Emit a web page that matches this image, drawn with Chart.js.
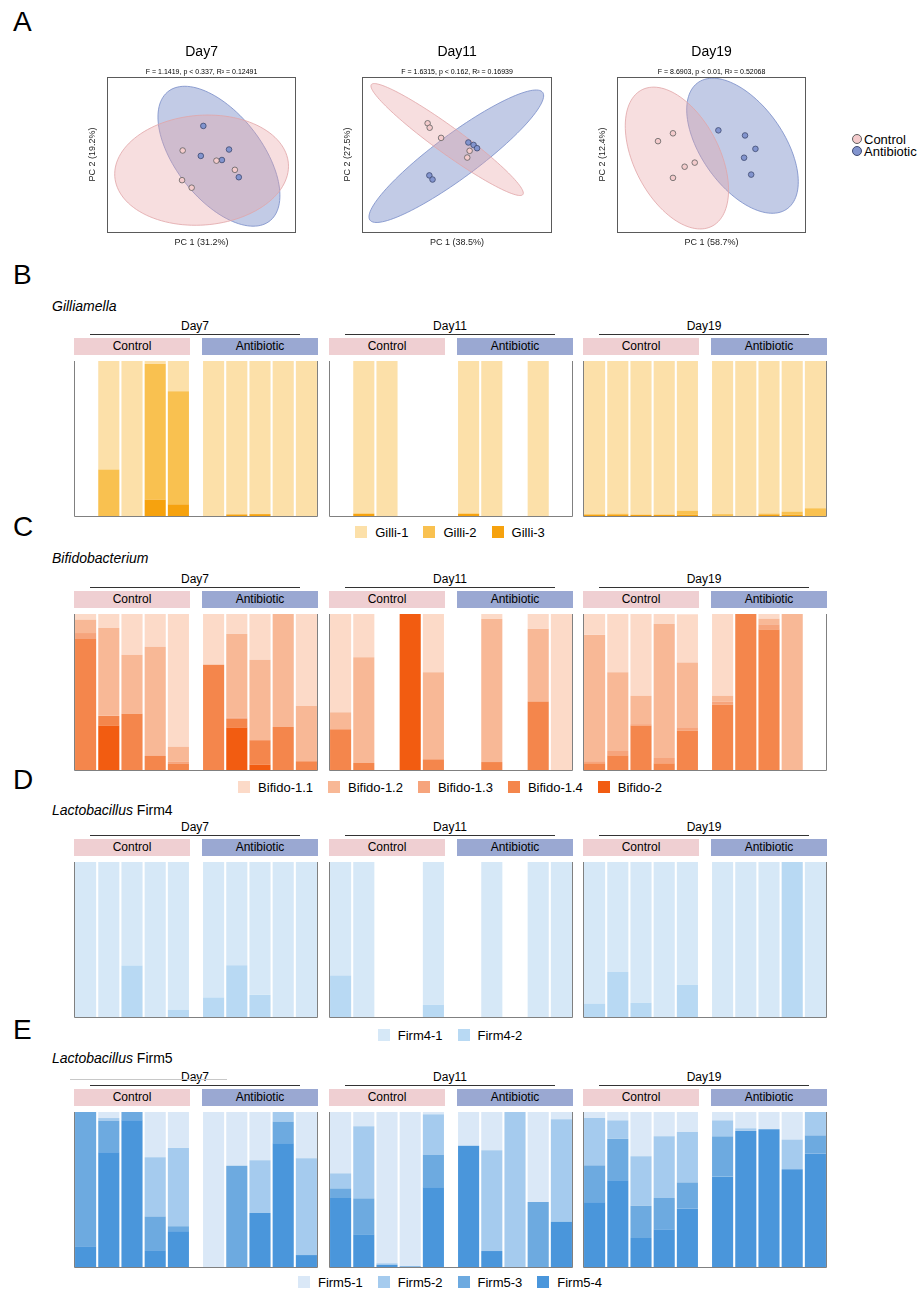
<!DOCTYPE html>
<html>
<head>
<meta charset="utf-8">
<title>Microbiome figure</title>
<script src="https://cdn.jsdelivr.net/npm/chart.js@4.4.1/dist/chart.umd.min.js"></script>
<style>
  body { margin: 0; background: #fff; }
  #fig { position: relative; width: 919px; height: 1290px; overflow: hidden; font-family: 'Liberation Sans', Arial, sans-serif; color: #000; }
  #fig div, #fig canvas { position: absolute; }
  .t { line-height: 1; white-space: nowrap; transform: translateY(-50%); }
  .c { transform: translate(-50%, -50%); }
  .strip { height: 17px; line-height: 17px; font-size: 12px; text-align: center; }
  .leg { display: flex; align-items: center; font-size: 13px; line-height: 1; white-space: nowrap; }
  #fig .leg span.sw { position: static; display: inline-block; width: 12px; height: 12px; margin-right: 8px; }
  #fig .leg span.lb { position: static; display: inline-block; margin-right: 15px; }
</style>
</head>
<body>
<div id="fig"></div>
<script>
// ---------- panel A: PCA ----------
var pcaDays = ['Day7', 'Day11', 'Day19'];
var pcaStats = ['F = 1.1419, p < 0.337, R² = 0.12491', 'F = 1.6315, p < 0.162, R² = 0.16939', 'F = 8.6903, p < 0.01, R² = 0.52068'];
var pc1Titles = ['PC 1 (31.2%)', 'PC 1 (38.5%)', 'PC 1 (58.7%)'];
var pc2Titles = ['PC 2 (19.2%)', 'PC 2 (27.5%)', 'PC 2 (12.4%)'];
var controlPts = [
  [[-0.120, 0.025], [0.094, -0.037], [0.211, -0.093], [-0.124, -0.156], [-0.063, -0.202]],
  [[-0.186, 0.191], [-0.173, 0.164], [-0.101, 0.102], [0.079, 0.023], [0.064, -0.018]],
  [[-0.245, 0.130], [-0.340, 0.082], [-0.107, -0.049], [-0.171, -0.074], [-0.245, -0.142]]
];
var antibioticPts = [
  [[0.011, 0.175], [0.174, 0.031], [-0.005, -0.008], [0.129, -0.033], [0.236, -0.138]],
  [[0.071, 0.074], [0.104, 0.059], [0.126, 0.039], [-0.175, -0.127], [-0.155, -0.152]],
  [[0.043, 0.148], [0.212, 0.117], [0.278, 0.035], [0.206, -0.019], [0.251, -0.122]]
];
// centre x, centre y, semi-axis a, semi-axis b, angle (deg)
var controlEllipse = [[0.0, -0.095, 0.552, 0.335, 4], [-0.063, 0.092, 0.584, 0.082, -35], [-0.220, -0.021, 0.472, 0.268, -61]];
var antibioticEllipse = [[0.110, -0.010, 0.510, 0.268, -50], [-0.005, -0.010, 0.670, 0.135, 35.5], [0.196, 0.054, 0.478, 0.258, -53]];

// ---------- panels B-E: stacked bars (5 control + 5 antibiotic per day) ----------
var days = ['Day7', 'Day11', 'Day19'];
var groups = ['Control', 'Antibiotic'];

var gilliNames = ['Gilli-1', 'Gilli-2', 'Gilli-3'];
var gilli1 = [[0, 0.70, 1, 0.017, 0.195, 1, 0.99, 0.988, 1, 1],
              [0, 0.985, 1, 0, 0, 0.985, 1, 0, 1, 0],
              [0.988, 0.985, 0.992, 0.992, 0.967, 0.988, 1, 0.984, 0.972, 0.95]];
var gilli2 = [[0, 0.30, 0, 0.878, 0.73, 0, 0, 0, 0, 0],
              [0, 0, 0, 0, 0, 0, 0, 0, 0, 0],
              [0.004, 0.005, 0, 0, 0.025, 0.012, 0, 0.006, 0.02, 0.05]];
var gilli3 = [[0, 0, 0, 0.105, 0.075, 0, 0.01, 0.012, 0, 0],
              [0, 0.015, 0, 0, 0, 0.015, 0, 0, 0, 0],
              [0.008, 0.01, 0.008, 0.008, 0.008, 0, 0, 0.01, 0.008, 0]];

var bifidoNames = ['Bifido-1.1', 'Bifido-1.2', 'Bifido-1.3', 'Bifido-1.4', 'Bifido-2'];
var bifido11 = [[0.036, 0.09, 0.261, 0.21, 0.85, 0.325, 0.126, 0.293, 0, 0.589],
                [0.63, 0.278, 0, 0, 0.373, 0, 0.03, 0, 0.094, 1],
                [0.135, 0.373, 0.525, 0.062, 0.31, 0.525, 0, 0.03, 0, 0]];
var bifido12 = [[0.086, 0.563, 0.379, 0.70, 0.098, 0, 0.537, 0.516, 0.724, 0.355],
                [0.109, 0.677, 0, 0, 0.559, 0, 0.919, 0, 0.467, 0],
                [0.814, 0.505, 0.182, 0.861, 0.415, 0.039, 0, 0.036, 1, 0]];
var bifido13 = [[0.039, 0, 0, 0, 0.013, 0, 0.009, 0, 0, 0],
                [0, 0, 0, 0, 0, 0, 0, 0, 0, 0],
                [0.009, 0.028, 0.009, 0.034, 0.021, 0.017, 0, 0.034, 0, 0]];
var bifido14 = [[0.839, 0.062, 0.36, 0.09, 0.039, 0.675, 0.056, 0.156, 0.276, 0.056],
                [0.261, 0.045, 0, 0, 0.068, 0, 0.051, 0, 0.439, 0],
                [0.043, 0.094, 0.285, 0.043, 0.253, 0.42, 1, 0.90, 0, 0]];
var bifido2 = [[0, 0.285, 0, 0, 0, 0, 0.272, 0.035, 0, 0],
               [0, 0, 0, 1, 0, 0, 0, 0, 0, 0],
               [0, 0, 0, 0, 0, 0, 0, 0, 0, 0]];

var firm4Names = ['Firm4-1', 'Firm4-2'];
var firm41 = [[1, 1, 0.668, 1, 0.953, 0.874, 0.666, 0.857, 1, 1],
              [0.732, 1, 0, 0, 0.921, 0, 1, 0, 1, 1],
              [0.914, 0.709, 0.908, 1, 0.792, 1, 1, 1, 0, 1]];
var firm42 = [[0, 0, 0.332, 0, 0.047, 0.126, 0.334, 0.143, 0, 0],
              [0.268, 0, 0, 0, 0.079, 0, 0, 0, 0, 0],
              [0.086, 0.291, 0.092, 0, 0.208, 0, 0, 0, 1, 0]];

var firm5Names = ['Firm5-1', 'Firm5-2', 'Firm5-3', 'Firm5-4'];
var firm51 = [[0, 0.039, 0, 0.292, 0.232, 1, 0.346, 0.312, 0, 0.299],
              [0.396, 0.092, 0.976, 0.995, 0.015, 0.217, 0.247, 0, 0.581, 0.047],
              [0.039, 0.054, 0.286, 0.157, 0.129, 0.054, 0.105, 0.112, 0.178, 0]];
var firm52 = [[0, 0.017, 0, 0.383, 0.505, 0, 0, 0.34, 0.062, 0.624],
              [0.097, 0.465, 0.01, 0, 0.26, 0, 0.65, 1, 0, 0.661],
              [0.305, 0.118, 0.318, 0.398, 0.325, 0.103, 0.017, 0, 0.191, 0.151]];
var firm53 = [[0.867, 0.204, 0.054, 0.217, 0.032, 0, 0.654, 0, 0.14, 0],
              [0.062, 0.232, 0, 0.005, 0.211, 0, 0, 0, 0.419, 0],
              [0.239, 0.269, 0.209, 0.202, 0.168, 0.26, 0, 0, 0, 0.116]];
var firm54 = [[0.133, 0.74, 0.946, 0.108, 0.231, 0, 0, 0.348, 0.798, 0.077],
              [0.445, 0.211, 0.014, 0, 0.514, 0.783, 0.103, 0, 0, 0.292],
              [0.417, 0.559, 0.187, 0.243, 0.378, 0.583, 0.878, 0.888, 0.631, 0.733]];

// ---------- styles ----------
var gilliColors = ['#FCE0A9', '#F9C150', '#F6A20E'];
var bifidoColors = ['#FCDAC8', '#F8B896', '#F6A47C', '#F4864C', '#F25C11'];
var firm4Colors = ['#D6E8F7', '#B8D9F3'];
var firm5Colors = ['#DAE8F7', '#A5CBEE', '#6DAAE0', '#4A96DB'];
var groupColors = ['#EFCFD2', '#9AA8D2'];

Chart.defaults.font.family = "'Liberation Sans', Arial, sans-serif";
Chart.defaults.color = '#000';

var fig = document.getElementById('fig');

function addDiv(cls, x, y, html, css) {
  var el = document.createElement('div');
  el.className = cls;
  el.style.left = x + 'px';
  el.style.top = y + 'px';
  el.innerHTML = html;
  if (css) { for (var k in css) el.style[k] = css[k]; }
  fig.appendChild(el);
  return el;
}
function addCanvas(x, y, w, h) {
  var cv = document.createElement('canvas');
  cv.width = w; cv.height = h;
  cv.style.left = x + 'px';
  cv.style.top = y + 'px';
  fig.appendChild(cv);
  return cv;
}

var ellipsePlugin = {
  id: 'ellipses',
  beforeDatasetsDraw: function (chart, args, opts) {
    var xs = chart.scales.x, ys = chart.scales.y, ctx = chart.ctx, a = chart.chartArea;
    ctx.save();
    ctx.beginPath();
    ctx.rect(a.left, a.top, a.right - a.left, a.bottom - a.top);
    ctx.clip();
    opts.items.forEach(function (e) {
      var p = e.shape, th = p[4] * Math.PI / 180;
      ctx.beginPath();
      for (var k = 0; k <= 120; k++) {
        var t = k / 120 * 2 * Math.PI;
        var ex = p[2] * Math.cos(t), ey = p[3] * Math.sin(t);
        var x = p[0] + ex * Math.cos(th) - ey * Math.sin(th);
        var y = p[1] + ex * Math.sin(th) + ey * Math.cos(th);
        var px = xs.getPixelForValue(x), py = ys.getPixelForValue(y);
        if (k === 0) ctx.moveTo(px, py); else ctx.lineTo(px, py);
      }
      ctx.closePath();
      ctx.fillStyle = e.fill;
      ctx.fill();
      ctx.strokeStyle = e.stroke;
      ctx.lineWidth = 1;
      ctx.stroke();
    });
    ctx.restore();
  }
};

var boxPlugin = {
  id: 'box',
  afterDraw: function (chart) {
    var a = chart.chartArea, ctx = chart.ctx;
    ctx.save();
    ctx.strokeStyle = '#5a5a5a';
    ctx.lineWidth = 1;
    ctx.strokeRect(Math.round(a.left) + 0.5, Math.round(a.top) + 0.5, Math.round(a.right - a.left) - 1, Math.round(a.bottom - a.top) - 1);
    ctx.restore();
  }
};

var framePlugin = {
  id: 'frame',
  afterDatasetsDraw: function (chart) {
    var a = chart.chartArea, ctx = chart.ctx;
    ctx.save();
    ctx.strokeStyle = '#808080';
    ctx.lineWidth = 1;
    ctx.beginPath();
    ctx.moveTo(a.left + 0.5, a.top);
    ctx.lineTo(a.left + 0.5, a.bottom + 0.5);
    ctx.lineTo(a.right - 0.5, a.bottom + 0.5);
    ctx.lineTo(a.right - 0.5, a.top);
    ctx.stroke();
    ctx.restore();
  }
};

// ---------- panel A ----------
addDiv('t', 13, 22, 'A', { fontSize: '28px' });
var pcaLeft = [85, 340, 595];
var pcaWidth = [216, 217, 216];
pcaDays.forEach(function (day, d) {
  var cv = addCanvas(pcaLeft[d], 40, pcaWidth[d], 210);
  new Chart(cv, {
    type: 'scatter',
    data: {
      datasets: [
        { label: 'Control', data: controlPts[d].map(function (p) { return { x: p[0], y: p[1] }; }),
          backgroundColor: '#F4CBCC', borderColor: '#5f5f5f', borderWidth: 0.8, pointRadius: 2.8 },
        { label: 'Antibiotic', data: antibioticPts[d].map(function (p) { return { x: p[0], y: p[1] }; }),
          backgroundColor: '#8294CE', borderColor: '#3f4a70', borderWidth: 0.8, pointRadius: 2.8 }
      ]
    },
    options: {
      responsive: false, animation: false, events: [],
      layout: { padding: 0 },
      plugins: {
        legend: { display: false },
        tooltip: { enabled: false },
        title: { display: true, text: day, fullSize: false, font: { size: 14, weight: 'normal' }, color: '#000', padding: { top: 3.6, bottom: 7.8 } },
        subtitle: { display: true, text: pcaStats[d], fullSize: false, font: { size: 7 }, color: '#000', padding: { top: 0, bottom: 0 } },
        ellipses: { items: [
          { shape: antibioticEllipse[d], fill: 'rgba(120,140,200,0.45)', stroke: 'rgba(120,140,200,0.8)' },
          { shape: controlEllipse[d], fill: 'rgba(232,160,163,0.35)', stroke: 'rgba(225,165,168,0.8)' }
        ] }
      },
      scales: {
        x: { min: -0.6, max: 0.6, ticks: { display: false }, grid: { display: false, drawTicks: false, tickLength: 0 }, border: { display: false },
             title: { display: true, text: pc1Titles[d], font: { size: 9 }, color: '#222', padding: { top: 4.6, bottom: 2 } } },
        y: { min: -0.476, max: 0.476, ticks: { display: false }, grid: { display: false, drawTicks: false, tickLength: 0 }, border: { display: false },
             title: { display: true, text: pc2Titles[d], font: { size: 9 }, color: '#222', padding: { top: 2.6, bottom: 8.6 } } }
      }
    },
    plugins: [ellipsePlugin, boxPlugin]
  });
});

// legend for panel A
var legAColors = [['#F4CBCC', '#5f5f5f'], ['#8294CE', '#3f4a70']];
groups.forEach(function (g, i) {
  var y = 139 + i * 12;
  addDiv('', 852, y - 5, '', { width: '8px', height: '8px', borderRadius: '50%', background: legAColors[i][0], border: '1px solid ' + legAColors[i][1] });
  addDiv('t', 864, y, g, { fontSize: '13px' });
});

// ---------- panels B-E ----------
var GAP = 12 / 23.2;
function slotX(i) { return i + 0.5 + (i >= 5 ? GAP : 0); }

var dayLeft = [74, 329, 583];
var panels = [
  { letter: 'B', letterY: 275, genus: '<i>Gilliamella</i>', genusY: 306, top: 361, height: 155, legendY: 532,
    names: gilliNames, colors: gilliColors, series: [gilli1, gilli2, gilli3] },
  { letter: 'C', letterY: 527, genus: '<i>Bifidobacterium</i>', genusY: 558, top: 614, height: 156, legendY: 787,
    names: bifidoNames, colors: bifidoColors, series: [bifido11, bifido12, bifido13, bifido14, bifido2] },
  { letter: 'D', letterY: 780, genus: '<i>Lactobacillus</i> Firm4', genusY: 810, top: 862, height: 155, legendY: 1035,
    names: firm4Names, colors: firm4Colors, series: [firm41, firm42] },
  { letter: 'E', letterY: 1030, genus: '<i>Lactobacillus</i> Firm5', genusY: 1058, top: 1112, height: 155, legendY: 1282,
    names: firm5Names, colors: firm5Colors, series: [firm51, firm52, firm53, firm54] }
];

panels.forEach(function (pn, pi) {
  addDiv('t', 13, pn.letterY, pn.letter, { fontSize: '28px' });
  addDiv('t', 52, pn.genusY, pn.genus, { fontSize: '14px' });

  days.forEach(function (day, d) {
    var x0 = dayLeft[d];
    addDiv('t c', x0 + 121, pn.top - 35, day, { fontSize: '12px' });
    addDiv('', x0 + 16, pn.top - 27, '', { width: '210px', height: '1px', background: '#333' });
    groups.forEach(function (g, gi) {
      addDiv('strip', x0 + gi * 128, pn.top - 23, g, { width: '116px', background: groupColors[gi] });
    });

    var datasets = [];
    for (var s = pn.names.length - 1; s >= 0; s--) {
      datasets.push({
        label: pn.names[s],
        data: pn.series[s][d].map(function (v, i) { return { x: slotX(i), y: v }; }),
        backgroundColor: pn.colors[s],
        borderWidth: 0,
        barPercentage: 0.91,
        categoryPercentage: 1
      });
    }
    var cv = addCanvas(x0 - 1, pn.top, 246, pn.height + 1);
    new Chart(cv, {
      type: 'bar',
      data: { datasets: datasets },
      options: {
        responsive: false, animation: false, events: [],
        layout: { padding: { left: 1, right: 1, top: 0, bottom: 1 } },
        plugins: { legend: { display: false }, tooltip: { enabled: false } },
        scales: {
          x: { type: 'linear', min: 0, max: 10 + GAP, offset: false, stacked: true, display: false },
          y: { min: 0, max: 1, stacked: true, display: false }
        }
      },
      plugins: [framePlugin]
    });
  });

  // legend row
  var html = '';
  pn.names.forEach(function (n, i) {
    html += '<span class="sw" style="background:' + pn.colors[i] + '"></span><span class="lb">' + n + '</span>';
  });
  addDiv('leg', 0, pn.legendY - 7, html, { width: '915px', height: '14px', justifyContent: 'center' });
});

// faint guide line in panel E
addDiv('', 70, 1079, '', { width: '157px', height: '1px', background: '#c8c8c8' });
</script>
</body>
</html>
